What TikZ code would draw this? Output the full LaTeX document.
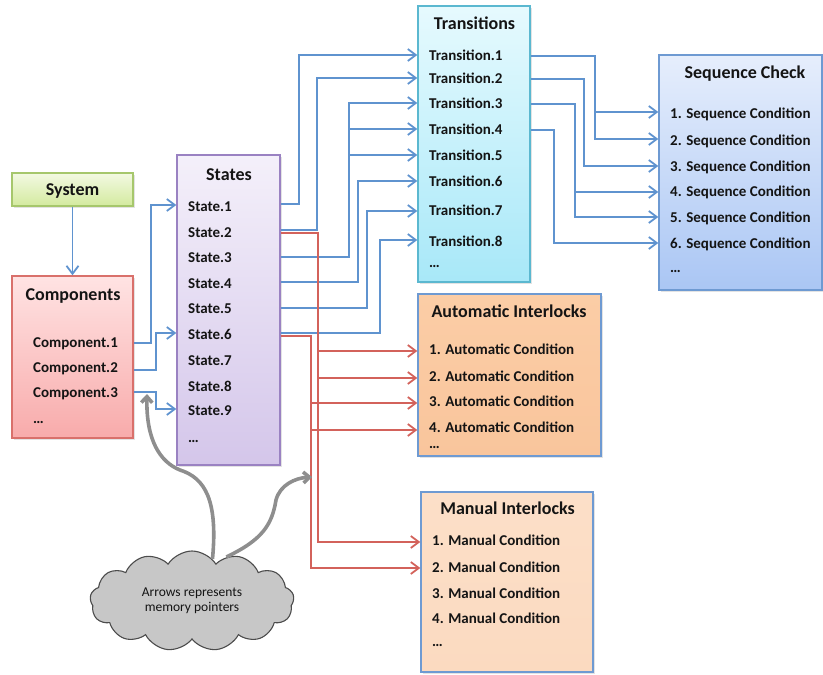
\documentclass[tikz,border=0pt]{standalone}
\usepackage{fontspec}
\setmainfont{Carlito}
\usetikzlibrary{arrows.meta,calc,shadows,shapes.symbols}

\definecolor{ink}{HTML}{141414}
\definecolor{wirec}{HTML}{5F93CF}
\definecolor{lockc}{HTML}{D3625B}
\definecolor{ptrc}{HTML}{8E8E8E}
% box fills and borders
\definecolor{sysT}{HTML}{F3F9E2}\definecolor{sysB}{HTML}{D3EA9F}\definecolor{sysD}{HTML}{A6C76C}
\definecolor{comT}{HTML}{FFE3E3}\definecolor{comB}{HTML}{F8ABAB}\definecolor{comD}{HTML}{D9706B}
\definecolor{staT}{HTML}{F4F0FA}\definecolor{staB}{HTML}{D4C6EA}\definecolor{staD}{HTML}{9A82C2}
\definecolor{traT}{HTML}{E6FAFE}\definecolor{traB}{HTML}{A8E8F8}\definecolor{traD}{HTML}{5BB8D0}
\definecolor{seqT}{HTML}{E6EEFC}\definecolor{seqB}{HTML}{AAC6F4}\definecolor{seqD}{HTML}{6E9AD2}
\definecolor{autT}{HTML}{FBCDA6}\definecolor{autB}{HTML}{F9C59C}
\definecolor{manT}{HTML}{FCDFC8}\definecolor{manB}{HTML}{FBDAC0}

\tikzset{
  box/.style={draw, rectangle, line width=1.4pt, inner sep=0pt,
    drop shadow={opacity=0.22, shadow xshift=1.6pt, shadow yshift=-1.6pt}},
  ttl/.style={font=\bfseries\fontsize{18}{20}\selectfont, inner sep=0pt,
    text height=11.6pt, text depth=0pt, text=ink},
  itm/.style={font=\bfseries\fontsize{15}{17}\selectfont, inner sep=0pt,
    text height=9.7pt, text depth=0pt, anchor=west, text=ink},
  wire/.style={draw=wirec, line width=1.8pt, -{Straight Barb[length=8pt,width=12pt]}},
  lockline/.style={draw=lockc, line width=1.8pt, -{Straight Barb[length=8pt,width=12pt]}},
  ptrline/.style={draw=ptrc, line width=3.6pt, -{Straight Barb[length=6pt,width=11pt]}},
}

\begin{document}
\begin{tikzpicture}[x=1pt, y=-1pt]
\useasboundingbox (0,0) rectangle (823,675);

% ---------- boxes ----------
\node[box, draw=sysD, top color=sysT, bottom color=sysB,
      minimum width=121pt, minimum height=33pt, ttl] (sys) at (72.5,189.5) {System};

\node[box, draw=comD, top color=comT, bottom color=comB,
      minimum width=121pt, minimum height=162pt] (comps) at (72.5,357) {};
\node[box, draw=staD, top color=staT, bottom color=staB,
      minimum width=103pt, minimum height=310pt] (states) at (228.5,310) {};
\node[box, draw=traD, top color=traT, bottom color=traB,
      minimum width=112pt, minimum height=276pt] (trans) at (474,144) {};
\node[box, draw=seqD, top color=seqT, bottom color=seqB,
      minimum width=163pt, minimum height=235pt] (seq) at (740.5,172.5) {};
\node[box, draw=seqD, top color=autT, bottom color=autB,
      minimum width=183pt, minimum height=162pt] (auto) at (509.5,375) {};
\node[box, draw=seqD, top color=manT, bottom color=manB,
      minimum width=172pt, minimum height=180pt] (man) at (507,582) {};

% ---------- titles ----------
\node[ttl] (compsT) at (73,295) {Components};
\node[ttl] (statesT) at (229,175) {States};
\node[ttl] (transT) at (474.5,24) {Transitions};
\node[ttl] (seqT) at (745,73) {Sequence Check};
\node[ttl] (autoT) at (509,312) {Automatic Interlocks};
\node[ttl] (manT) at (507.5,509) {Manual Interlocks};

% ---------- items ----------
\node[itm] (c1) at (33,343) {Component.1};
\node[itm] (c2) at (33,368) {Component.2};
\node[itm] (c3) at (33,393) {Component.3};
\node[itm] (cx) at (33,419) {…};

\node[itm] (s1) at (188,207) {State.1};
\node[itm] (s2) at (188,233) {State.2};
\node[itm] (s3) at (188,258) {State.3};
\node[itm] (s4) at (188,284) {State.4};
\node[itm] (s5) at (188,309) {State.5};
\node[itm] (s6) at (188,335) {State.6};
\node[itm] (s7) at (188,361) {State.7};
\node[itm] (s8) at (188,387) {State.8};
\node[itm] (s9) at (188,411) {State.9};
\node[itm] (sx) at (188,438) {…};

\node[itm] (t1) at (429,56) {Transition.1};
\node[itm] (t2) at (429,79) {Transition.2};
\node[itm] (t3) at (429,104) {Transition.3};
\node[itm] (t4) at (429,130) {Transition.4};
\node[itm] (t5) at (429,156) {Transition.5};
\node[itm] (t6) at (429,182) {Transition.6};
\node[itm] (t7) at (429,211) {Transition.7};
\node[itm] (t8) at (429,242) {Transition.8};
\node[itm] (tx) at (429,263) {…};

\node[itm] (k1) at (670,114) {1. Sequence Condition};
\node[itm] (k2) at (670,141) {2. Sequence Condition};
\node[itm] (k3) at (670,167) {3. Sequence Condition};
\node[itm] (k4) at (670,192) {4. Sequence Condition};
\node[itm] (k5) at (670,218) {5. Sequence Condition};
\node[itm] (k6) at (670,244) {6. Sequence Condition};
\node[itm] (kx) at (670,268) {…};

\node[itm] (a1) at (429,350) {1. Automatic Condition};
\node[itm] (a2) at (429,377) {2. Automatic Condition};
\node[itm] (a3) at (429,402) {3. Automatic Condition};
\node[itm] (a4) at (429,428) {4. Automatic Condition};
\node[itm] (ax) at (429,444) {…};

\node[itm] (m1) at (432,541) {1. Manual Condition};
\node[itm] (m2) at (432,568) {2. Manual Condition};
\node[itm] (m3) at (432,594) {3. Manual Condition};
\node[itm] (m4) at (432,619) {4. Manual Condition};
\node[itm] (mx) at (432,642) {…};

% ---------- system to components ----------
\draw[wire] (sys.south) -- (comps.north);

% ---------- components to states ----------
\draw[wire] (comps.east|-c1) -- ++(17,0) |- ($(states.west|-s1)+(0,-2)$);
\draw[wire] ($(comps.east|-c2)+(0,2)$) -- ++(22,0) |- ($(states.west|-s6)+(0,-2)$);
\draw[wire] ($(comps.east|-c3)+(0,-1)$) -- ++(22,0) |- ($(states.west|-s9)+(0,-2)$);

% ---------- states to transitions ----------
\draw[wire] ($(states.east|-s1)+(0,-3)$) -- ++(18,0) |- ($(trans.west|-t1)+(0,-1)$);
\draw[wire] ($(states.east|-s2)+(0,-3)$) -- ++(36,0) |- ($(trans.west|-t2)+(0,-1)$);
\draw[wire] ($(states.east|-s3)+(0,-1)$) -- ++(68,0) coordinate (j3) |- ($(trans.west|-t3)+(0,-1)$);
\draw[wire] ($(j3|-t4)+(0,-1)$) -- ($(trans.west|-t4)+(0,-1)$);
\draw[wire] ($(j3|-t5)+(0,-1)$) -- ($(trans.west|-t5)+(0,-1)$);
\draw[wire] ($(states.east|-s4)+(0,-2)$) -- ++(77,0) |- ($(trans.west|-t6)+(0,-1)$);
\draw[wire] ($(states.east|-s5)+(0,-1)$) -- ++(86,0) |- (trans.west|-t7);
\draw[wire] ($(states.east|-s6)+(0,-2)$) -- ++(99,0) |- ($(trans.west|-t8)+(0,-2)$);

% ---------- states to interlocks ----------
\draw[lockline] (states.east|-s2) -- ++(37,0) coordinate (r2) |- ($(man.west|-m1)+(0,1)$);
\draw[lockline] ($(r2|-a1)+(0,1)$) -- ($(auto.west|-a1)+(0,1)$);
\draw[lockline] ($(r2|-a2)+(0,1)$) -- ($(auto.west|-a2)+(0,1)$);
\draw[lockline] ($(states.east|-s6)+(0,1)$) -- ++(30,0) coordinate (r6) |- (man.west|-m2);
\draw[lockline] ($(r6|-a3)+(0,1)$) -- ($(auto.west|-a3)+(0,1)$);
\draw[lockline] ($(r6|-a4)+(0,2)$) -- ($(auto.west|-a4)+(0,2)$);

% ---------- transitions to sequence check ----------
\draw[wire] (trans.east|-t1) -- ++(64,0) coordinate (q1) |- ($(seq.west|-k2)+(0,-2)$);
\draw[wire] ($(q1|-k1)+(0,-2)$) -- ($(seq.west|-k1)+(0,-2)$);
\draw[wire] (trans.east|-t2) -- ++(53,0) |- ($(seq.west|-k3)+(0,-1)$);
\draw[wire] (trans.east|-t3) -- ++(44,0) coordinate (q3) |- ($(seq.west|-k5)+(0,-1)$);
\draw[wire] (q3|-k4) -- (seq.west|-k4);
\draw[wire] (trans.east|-t4) -- ++(23,0) |- ($(seq.west|-k6)+(0,-1)$);

% ---------- note on pointers ----------
\node[cloud, cloud puffs=13, cloud puff arc=115, aspect=2.1, draw=black!70, fill=black!22,
      line width=1.1pt, minimum width=204pt, minimum height=100pt, inner sep=0pt, align=center,
      font=\fontsize{13.5}{15.5}\selectfont, text=ink] (note) at (192,601)
      {Arrows represents\\memory pointers};
\coordinate (ptrA) at (147,394);
\coordinate (ptrB) at (312,477);
\draw[ptrline] (note.64) .. controls (218,500) and (205,478) .. (180,470)
               .. controls (160,462) and (146,440) .. (ptrA);
\draw[ptrline] (note.52) .. controls (262,540) and (272,525) .. (276,500)
               .. controls (280,485) and (295,478) .. (ptrB);
\end{tikzpicture}
\end{document}
